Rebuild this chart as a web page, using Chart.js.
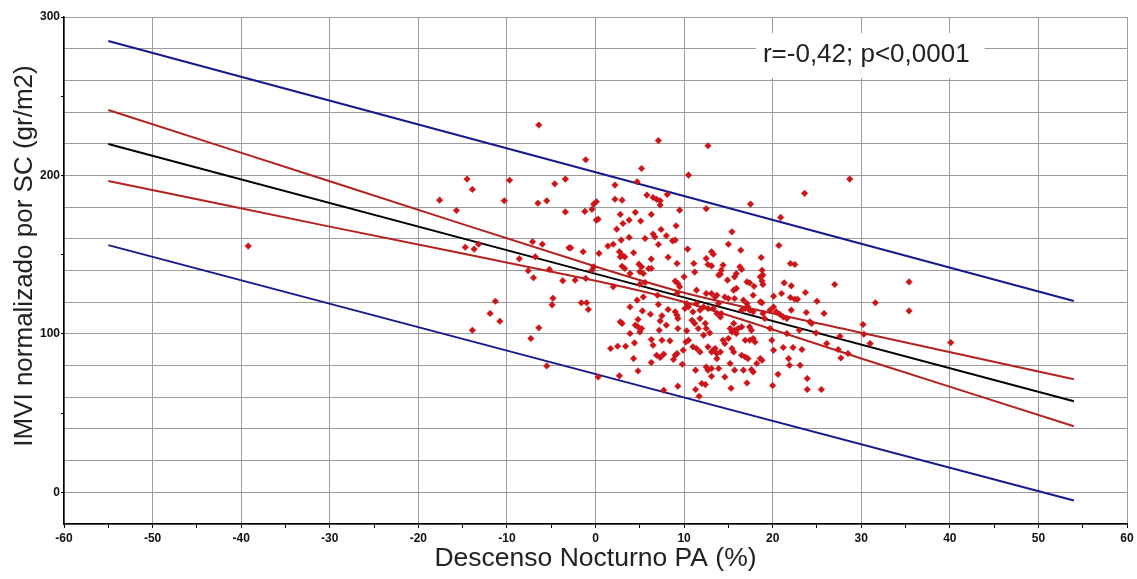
<!DOCTYPE html>
<html lang="es">
<head>
    <meta charset="UTF-8">
    <title>IMVI vs Descenso Nocturno PA</title>
    <style>
        body { margin: 0; padding: 0; background: #fff; }
        canvas { display: block; }
    </style>
    <script src="https://cdn.jsdelivr.net/npm/chart.js@4.4.1/dist/chart.umd.min.js"></script>
</head>
<body>
    <canvas id="scatterChart" width="1137" height="579"></canvas>

    <script>
        // Descenso nocturno PA (%) and IMVI (gr/m2)
        const descenso = [
            -39.2, -6.4, -14.5, -13.9, -17.6, -15.7, -9.7, -10.3, -6.5, -5.5, -4.6, -3.4, -3.4, -14.7, -13.7, -13.2, -7.1,
            -6.0, -8.6, -6.8, -7.6, -7.0, -5.2, -3.7, -4.8, -4.9, -11.3, -11.9, -10.8, -13.9, -6.4, -7.3, -5.5, -3.0,
            7.1, 12.7, -1.1, 5.2, 10.5, 4.7, 2.2, 5.8, 6.5, 6.9, 7.3, 7.3, 8.1, 2.2, 3.0, 0.1, -0.2, -0.4, -1.2, 12.5,
            9.5, 4.5, 2.8, 6.3, 0.1, 0.3, 3.8, 5.1, 3.1, 9.1, 2.4, 7.4, 6.5, 6.7, 8.0, 3.8, 5.6, 8.7, 9.0, 2.9, 2.0, 1.4,
            7.1, -2.8, 10.4, -1.4, 0.4, 2.7, 3.0, 3.3, 2.8, 4.3, 8.2, 6.3, 12.5, 13.1, 13.3, 4.9, 5.2, 9.2, 11.1, 11.2,
            12.7, 13.1, 3.0, 3.3, -0.2, -0.4, 6.3, 6.0, 5.4, 5.0, 3.9, 13.9, 10.0, -1.1, -2.3, 2.0, 5.0, 5.6, 9.0, 9.3,
            9.5, 11.4, 12.5, 13.1, 13.7, 13.5, 7.0, 9.2, 5.4, 4.7, 10.3, 10.5, 10.1, -1.6, -1.0, -0.8, 3.9, 7.1, 8.2,
            11.4, 11.8, 11.0, 12.2, 12.7, 13.3, 13.7, 5.3, 9.0, 9.2, 9.3, 6.2, 7.5, 7.3, 4.8, 3.0, 2.8, 8.0, 4.5, 4.8,
            5.2, 5.0, 10.9, 11.2, 11.8, 12.4, 11.6, 12.5, 12.9, 12.2, 7.2, 9.3, 3.9, 10.3, 10.5, 10.2, 6.3, 6.5, 8.4,
            4.4, 7.5, 1.7, 2.5, 3.4, 11.0, 11.4, 11.8, 12.7, 13.1, 13.5, 13.7, 6.9, 7.3, 7.7, 9.0, 9.2, 8.8, 9.9, 4.3,
            6.3, 9.8, 12.5, 13.1, 12.7, 11.3, 4.8, 13.1, 0.3, 2.7, 12.0, 12.4, 9.3, 11.3, 7.7, 11.7,
            28.7, 23.6, 17.5, 20.9, 15.4, 15.0, 16.4, 20.7, 18.7, 22.0, 22.5, 14.4, 14.2, 16.3, 16.5, 18.8, 18.9, 18.6,
            15.9, 15.7, 14.1, 27.0, 14.9, 17.1, 17.4, 17.9, 18.8, 18.9, 21.3, 22.1, 23.7, 21.0, 22.0, 22.5, 22.8, 17.8,
            20.1, 15.6, 15.9, 15.7, 15.0, 14.6, 16.7, 17.1, 17.2, 17.4, 16.9, 17.8, 16.5, 18.6, 18.8, 25.0, 13.9, 20.1,
            19.7, 20.4, 20.8, 21.2, 21.6, 22.1, 23.8, 25.8, 18.9, 19.1, 14.2, 14.1, 24.2, 24.4, 30.2, 15.6, 15.2, 15.7,
            16.1, 16.5, 15.9, 15.4, 17.4, 17.6, 19.7, 19.9, 21.6, 23.0, 24.9, 27.6, 30.3, 26.1, 27.4, 28.5, 27.7, 21.2,
            22.3, 23.3, 20.1, 14.4, 15.0, 14.6, 15.4, 15.6, 16.9, 17.4, 17.8, 18.0, 13.3, 14.1, 13.7, 16.5, 16.9, 17.2,
            18.6, 18.8, 18.2, 21.8, 21.9, 23.1, 15.2, 15.7, 13.9, 16.7, 17.8, 17.6, 14.6, 20.6, 23.9, 17.1, 15.3, 20.0,
            23.9, 25.5,
            35.4, 31.6, 35.4, 31.0, 40.1
        ];
        const imvi = [
            155.4, 231.8, 197.7, 191.2, 184.4, 177.9, 197, 184, 182.5, 184, 194.7, 197.7, 177, 154.7, 153.5, 156.6, 158.1,
            156.6, 147.4, 148.6, 139.8, 135.4, 140.7, 133.5, 122.5, 118.3, 120.6, 112.9, 108, 102.3, 103.8, 97.1, 79.8, 154.3,
            222, 218.7, 209.9, 204.4, 200.2, 196, 193.9, 187.6, 186.1, 184.9, 184, 181.3, 188, 185, 184.4, 183.4, 181.9, 178.6, 177.3, 179,
            178.1, 176.7, 175.4, 175.4, 171.8, 172.4, 171.8, 171.2, 169.7, 168.2, 166.1, 165.9, 163, 161.2, 161.9, 160.9, 160.2, 158.7, 159.2, 159.2, 156.6, 155.4,
            156.4, 154.3, 153.5, 151.8, 150.8, 151.8, 149.7, 148.6, 148.6, 151.2, 148.4, 147.2, 147.6, 151.8, 150.3, 144, 142.3, 144.4, 144.4, 139,
            143.8, 142.9, 142.7, 141.3, 142.3, 140.2, 141.3, 141.3, 138.1, 139.2, 138.1, 137.1, 136, 135, 133.9, 129.7, 131.4, 132.4, 133.3, 131.8,
            129.7, 127.6, 125.5, 125.5, 124.4, 123.3, 124.4, 125.5, 123.3, 121.3, 119.2, 117.1, 116, 119.6, 119.6, 115.4, 117, 118.6, 115.4,
            119.2, 115, 113.9, 117, 116, 116, 112.9, 114.5, 113.9, 111.8, 109.7, 112.4, 111.4, 108.2, 109.1, 106.6, 107.6, 105.5, 105.5, 104.4,
            103.4, 101.2, 108.6, 106.6, 109.7, 106.6, 103.4, 103.4, 100.6, 99.2, 102.3, 103.4, 100.2, 101.9, 96, 94.9, 96.4, 92.8, 95.6,
            94.3, 96, 90.8, 92.2, 92.2, 91.8, 90.8, 88.6, 91.8, 88.6, 90.8, 87.6, 86.5, 85.1, 87.2, 86.5, 87.6, 83.8, 89.7, 84.4,
            81.9, 80.8, 79.1, 78.1, 77.1, 77.1, 76.6, 73.3, 72.8, 73.5, 68.7, 68, 67, 64.9, 64.4, 60.6,
            197.7, 188.7, 181.9, 173.5, 164.4, 156.6, 152.8, 155.8, 148.2, 144.4, 143.8, 143.4, 140.2, 142.3, 140.7, 140.2, 137.1, 136,
            138.1, 136, 137.7, 131.2, 133.9, 132.8, 132.2, 130.1, 133.3, 131.2, 132.2, 130.3, 126.1, 125.5, 123, 121.9, 121.9, 124.4,
            123.8, 127.6, 128.7, 122.3, 122.3, 123.3, 121.3, 119.2, 117.1, 115, 116, 113.9, 115, 120.2, 119.6, 120.6, 119.2, 117,
            115, 113.9, 112.4, 110.7, 109.7, 115, 113.5, 112.9, 112.9, 109.7, 112.9, 110.7, 107.6, 106.6, 105.9, 106.6, 103.4, 102.3,
            103.4, 104.4, 100.2, 101.2, 104.4, 102.3, 103.4, 96, 100.2, 102.3, 100.6, 98.5, 99.8, 93.9, 90.1, 87.6, 84.8, 91.4,
            91.4, 90.1, 89.7, 96, 97.1, 93.9, 90.8, 88.6, 96, 96, 97.1, 94.9, 89.7, 88.6, 84.4, 86.5, 85.4, 84.4,
            84.4, 83.4, 81.3, 84.4, 80.2, 80.2, 81.3, 77.1, 78.1, 77.1, 76, 77.5, 72.8, 74.5, 71.8, 69, 65.7, 67.4,
            64.9, 64.9,
            132.8, 119.6, 114.5, 93.9, 94.5
        ];

        // fitted line, 95% confidence band and 95% prediction band
        const lineX = [-55, 54];
        const regression = [219.8, 57.5];
        const predUpper = [284.9, 120.7];
        const predLower = [156.0, -5.2];
        const bandX = [-55, -30, 0, 11, 30, 54];
        const confUpper = [241.3, 196.3, 142.5, 124.5, 100.7, 71.4];
        const confLower = [196.5, 167.7, 133.5, 118.5, 84.5, 41.7];

        const statText = 'r=-0,42; p<0,0001';
        const statPos = [18.9, 276];

        const toXY = (xs, ys) => xs.map((v, i) => ({ x: v, y: ys[i] }));

        const gridGray = '#9c9c9c';
        const clear = 'rgba(0,0,0,0)';

        // white box with the correlation result
        const statsLabel = {
            id: 'statsLabel',
            afterDraw(chart) {
                const { ctx, scales: { x, y } } = chart;
                ctx.save();
                ctx.font = '26px Arial';
                const w = ctx.measureText(statText).width;
                const left = x.getPixelForValue(statPos[0]);
                const mid = y.getPixelForValue(statPos[1]);
                ctx.fillStyle = '#fff';
                ctx.fillRect(left - 7, mid - 22, w + 22, 45);
                ctx.fillStyle = '#222';
                ctx.textBaseline = 'middle';
                ctx.fillText(statText, left, mid);
                ctx.restore();
            }
        };

        const lineSet = (data, color) => ({
            type: 'line',
            data: data,
            borderColor: color,
            borderWidth: 2,
            pointRadius: 0,
            fill: false,
            tension: 0.3
        });

        new Chart(document.getElementById('scatterChart'), {
            type: 'scatter',
            data: {
                datasets: [
                    {
                        label: 'Pacientes',
                        data: toXY(descenso, imvi),
                        pointStyle: 'rectRot',
                        pointRadius: 3.3,
                        backgroundColor: '#cc1518',
                        borderColor: '#cc1518',
                        borderWidth: 0.5
                    },
                    lineSet(toXY(lineX, regression), '#000000'),
                    lineSet(toXY(bandX, confUpper), '#b3221f'),
                    lineSet(toXY(bandX, confLower), '#b3221f'),
                    lineSet(toXY(lineX, predUpper), '#17188c'),
                    lineSet(toXY(lineX, predLower), '#17188c')
                ]
            },
            options: {
                responsive: false,
                animation: false,
                layout: { padding: { left: 0, right: 10, top: 17, bottom: 0 } },
                plugins: {
                    legend: { display: false },
                    tooltip: { enabled: false }
                },
                scales: {
                    x: {
                        type: 'linear',
                        min: -60,
                        max: 60,
                        afterFit(scale) { scale.height = 55; },
                        border: { color: '#000', width: 1.5 },
                        grid: {
                            color: c => (c.tick && c.tick.value % 10 === 0) ? gridGray : clear,
                            tickColor: '#000',
                            tickLength: 4
                        },
                        ticks: {
                            stepSize: 5,
                            autoSkip: false,
                            maxRotation: 0,
                            padding: 3,
                            color: '#111',
                            font: { family: 'Arial', size: 12, weight: 'bold' },
                            callback: v => (v % 10 === 0 ? v : '')
                        },
                        title: {
                            display: true,
                            text: 'Descenso Nocturno PA (%)',
                            color: '#222',
                            font: { family: 'Arial', size: 26.5 },
                            padding: { top: 0, bottom: 4 }
                        }
                    },
                    y: {
                        type: 'linear',
                        min: -20,
                        max: 300,
                        afterFit(scale) { scale.width = 64; },
                        border: { color: '#000', width: 1.5 },
                        grid: {
                            color: c => (c.tick && c.tick.value % 20 === 0) ? gridGray : clear,
                            tickColor: c => (c.tick && c.tick.value % 50 === 0) ? '#000' : clear,
                            tickLength: 3
                        },
                        ticks: {
                            stepSize: 10,
                            autoSkip: false,
                            padding: 1,
                            color: '#111',
                            font: { family: 'Arial', size: 12, weight: 'bold' },
                            callback: v => (v % 100 === 0 ? v : '')
                        },
                        title: {
                            display: true,
                            // leading spaces push the centred title up a little, as in the original
                            text: '    IMVI normalizado por SC (gr/m2)',
                            color: '#222',
                            font: { family: 'Arial', size: 26 },
                            padding: { top: 9, bottom: 0 }
                        }
                    }
                }
            },
            plugins: [statsLabel]
        });
    </script>
</body>
</html>
